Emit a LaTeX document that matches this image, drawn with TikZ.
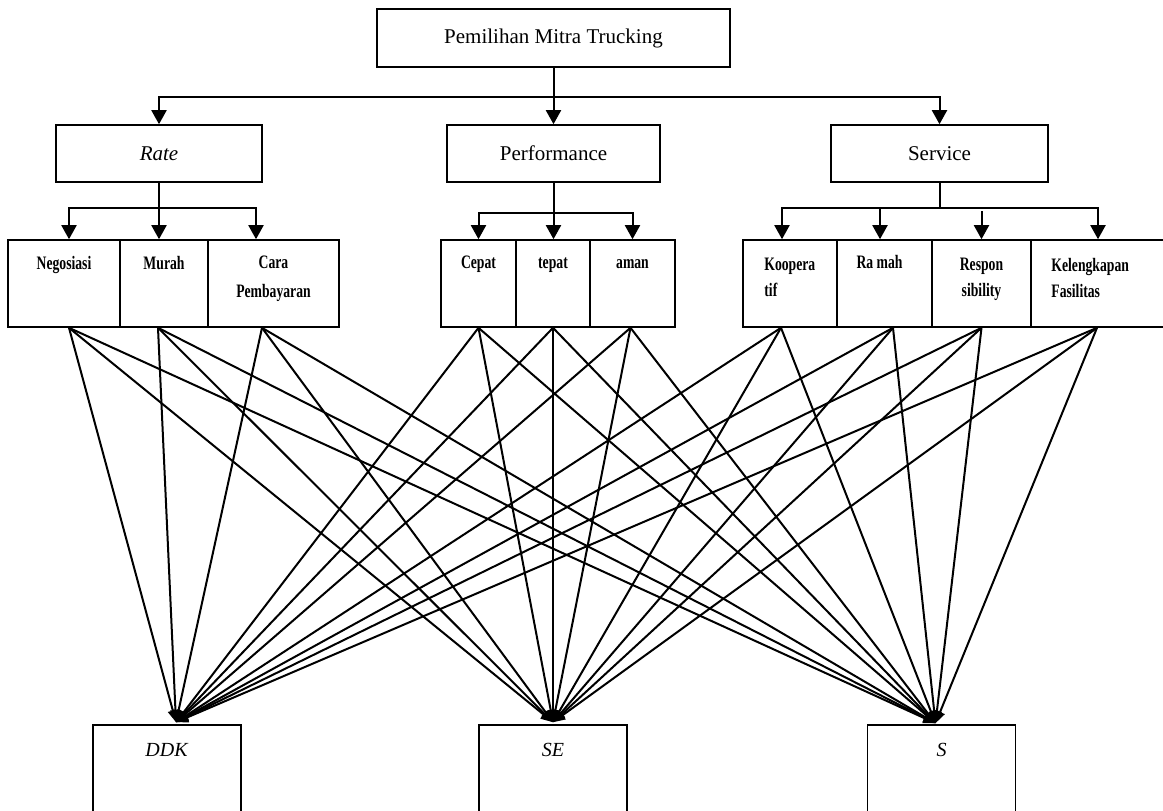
\documentclass[tikz,border=0pt]{standalone}
\usepackage{fontspec}
\setmainfont{Liberation Serif}
\newfontfamily\condfont[FakeStretch=0.72]{Liberation Serif}
\usetikzlibrary{arrows.meta}

\tikzset{
  box/.style={draw, line width=1.6pt, inner sep=0pt, minimum height=57pt, font=\fontsize{21}{25}\selectfont},
  sub/.style={draw, line width=1.6pt, inner sep=0pt, minimum height=87pt},
  alt/.style={draw, line width=1.6pt, inner sep=0pt, minimum width=148pt, minimum height=95pt},
  lab/.style={anchor=north, inner sep=0pt, align=center, font=\condfont\bfseries\fontsize{19}{29}\selectfont},
  ln/.style={line width=2pt},
  arr/.style={line width=2pt, -{Triangle[length=14pt,width=15pt]}},
  fan/.style={line width=2pt, -{Triangle[length=12pt,width=10pt]}},
}

\begin{document}
\begin{tikzpicture}[x=1pt,y=-1pt]
\useasboundingbox (0,0) rectangle (1163,811);

% goal and criteria
\node[box, minimum width=353pt, minimum height=58pt] (goal) at (553.5,38) {Pemilihan Mitra Trucking};
\node[box, minimum width=206pt] (rate) at (159,153.5) {\textit{Rate}};
\node[box, minimum width=213pt] (perf) at (553.5,153.5) {Performance};
\node[box, minimum width=217pt] (serv) at (939.5,153.5) {Service};

% sub criteria
\node[sub, minimum width=112pt] (neg) at (64,283.5) {};
\node[sub, minimum width=88pt] (murah) at (164,283.5) {};
\node[sub, minimum width=131pt] (cara) at (273.5,283.5) {};
\node[sub, minimum width=75pt] (cepat) at (478.5,283.5) {};
\node[sub, minimum width=74pt] (tepat) at (553,283.5) {};
\node[sub, minimum width=85pt] (aman) at (632.5,283.5) {};
\node[sub, minimum width=94pt] (koop) at (790,283.5) {};
\node[sub, minimum width=95pt] (ramah) at (884.5,283.5) {};
\node[sub, minimum width=99pt] (resp) at (981.5,283.5) {};
\node[sub, minimum width=134pt] (kel) at (1098,283.5) {};

\node[lab] at ([yshift=-17pt]neg.north) {Negosiasi};
\node[lab] at ([yshift=-17pt]murah.north) {Murah};
\node[lab] at ([yshift=-17pt]cara.north) {Cara\\Pembayaran};
\node[lab] at ([yshift=-17pt]cepat.north) {Cepat};
\node[lab] at ([yshift=-17pt]tepat.north) {\vphantom{C}tepat};
\node[lab] at ([yshift=-17pt]aman.north) {\vphantom{C}aman};
\node[lab, anchor=north west, align=left, font=\condfont\bfseries\fontsize{19}{26}\selectfont] at ([xshift=22pt,yshift=-19pt]koop.north west) {Koopera\\tif};
\node[lab] at ([xshift=-5pt,yshift=-16pt]ramah.north) {Ra mah};
\node[lab, font=\condfont\bfseries\fontsize{19}{26}\selectfont] at ([yshift=-19pt]resp.north) {Respon\\sibility};
\node[lab, anchor=north west, align=left, font=\condfont\bfseries\fontsize{19}{26}\selectfont] at ([xshift=21pt,yshift=-19pt]kel.north west) {Kelengkapan\\Fasilitas};

% alternatives
\node[alt] (ddk) at (167,772.5) {};
\node[alt] (se) at (553,772.5) {};
\node[alt] (s) at (941.5,772.5) {};
\node[anchor=base, font=\fontsize{20}{24}\selectfont] at ([yshift=-32pt]ddk.north) {\textit{DDK}};
\node[anchor=base, font=\fontsize{20}{24}\selectfont] at ([yshift=-32pt]se.north) {\textit{SE}};
\node[anchor=base, font=\fontsize{20}{24}\selectfont] at ([yshift=-32pt]s.north) {\textit{S}};

% tree connectors
\coordinate (j0) at ([yshift=-29pt]goal.south);
\draw[arr] (goal.south) -- (perf.north);
\draw[arr] (j0) -| (rate.north);
\draw[arr] (j0) -| (serv.north);

\coordinate (rj) at ([yshift=-25pt]rate.south);
\draw[ln] (rate.south) -- (rj);
\draw[arr] (rj) -| ([xshift=5pt]neg.north);
\draw[arr] (rj) -- (rj |- murah.north);
\draw[arr] (rj) -| ([xshift=-17.5pt]cara.north);

\coordinate (pj) at ([yshift=-30pt]perf.south);
\draw[ln] (perf.south) -- (pj);
\draw[arr] (pj) -| (cepat.north);
\draw[arr] (pj) -- (pj |- tepat.north);
\draw[arr] (pj) -| (aman.north);

\coordinate (sj) at ([yshift=-25pt]serv.south);
\draw[ln] (serv.south) -- (sj);
\draw[arr] (sj) -| ([xshift=-8pt]koop.north);
\draw[arr] (sj) -| ([xshift=-4.5pt]ramah.north);
\draw[arr] (sj) -| (kel.north);
\draw[arr] ([yshift=28pt]resp.north) -- (resp.north);

% every sub criterion to every alternative
\coordinate (neg-s) at ([xshift=5pt]neg.south);
\coordinate (murah-s) at ([xshift=-6pt]murah.south);
\coordinate (cara-s) at ([xshift=-11.5pt]cara.south);
\coordinate (cepat-s) at (cepat.south);
\coordinate (tepat-s) at (tepat.south);
\coordinate (aman-s) at ([xshift=-2pt]aman.south);
\coordinate (koop-s) at ([xshift=-9pt]koop.south);
\coordinate (ramah-s) at ([xshift=8.5pt]ramah.south);
\coordinate (resp-s) at (resp.south);
\coordinate (kel-s) at ([xshift=-1pt]kel.south);
\coordinate (ddk-t) at ([xshift=9pt,yshift=2pt]ddk.north);
\coordinate (se-t) at ([yshift=2pt]se.north);
\coordinate (s-t) at ([xshift=-6pt,yshift=1pt]s.north);
\foreach \src in {neg-s,murah-s,cara-s,cepat-s,tepat-s,aman-s,koop-s,ramah-s,resp-s,kel-s}
  \foreach \dst in {ddk-t,se-t,s-t}
    \draw[fan] (\src) -- (\dst);
\end{tikzpicture}
\end{document}
